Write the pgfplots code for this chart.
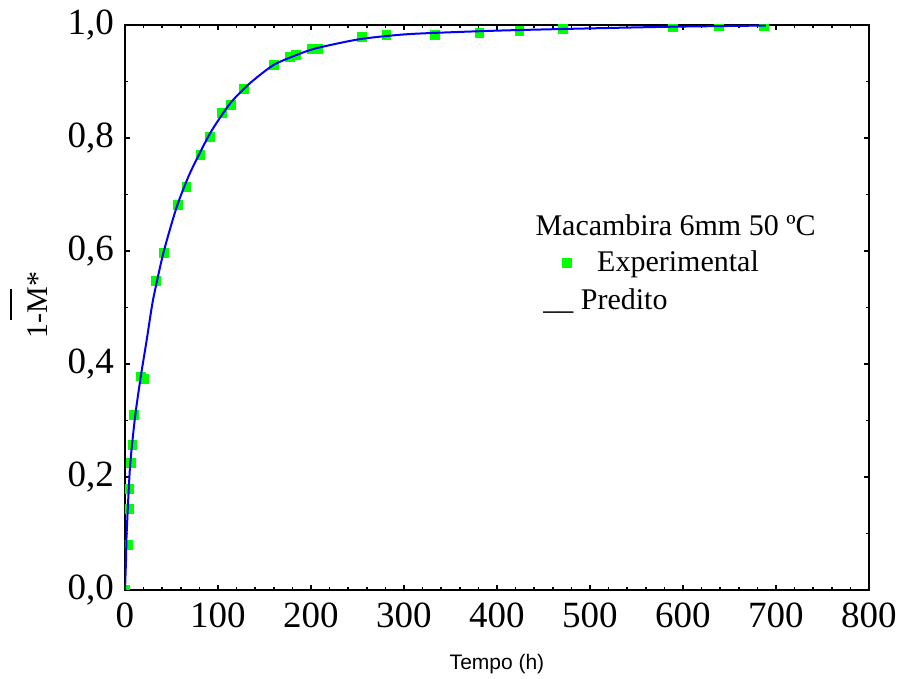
\documentclass[border=0pt]{standalone}
\usepackage{fontspec}
\setmainfont{Liberation Serif}
\newfontfamily\arialfont{Liberation Sans}
\usepackage{pgfplots}
\pgfplotsset{compat=1.18}

% measured drying data
\pgfplotstableread{
t    y
0    0.000
3.5  0.080
4.3  0.143
4.3  0.179
6    0.225
8    0.257
10   0.310
17   0.378
20   0.374
33   0.547
42   0.596
57   0.681
66   0.713
81   0.770
91   0.802
104  0.844
114  0.858
128  0.887
160  0.929
177  0.943
184  0.947
201  0.958
208  0.958
255  0.979
281  0.982
333  0.982
381  0.986
424  0.989
471  0.993
589  0.996
639  0.999
687  0.999
}\experimental

% fitted model curve
\pgfplotstableread{
t     y
0     0.000
1.1   0.053
1.8   0.101
5.4   0.218
10.8  0.306
16.9  0.377
23.3  0.442
30.1  0.513
41.2  0.596
55.6  0.678
69.9  0.738
91.4  0.808
112.9 0.861
134.4 0.897
159.5 0.929
184.6 0.947
206.1 0.959
252.7 0.975
306.5 0.984
400   0.990
500   0.994
590   0.997
689   0.999
}\predito

\definecolor{ptgreen}{RGB}{0,255,0}
\definecolor{lineblue}{RGB}{0,0,255}

\begin{document}
\begin{tikzpicture}
\useasboundingbox (-62.5pt,-44.5pt) rectangle (388.5pt,295pt);
\begin{axis}[
  at={(0pt,0pt)}, anchor=south west,
  scale only axis,
  width=372pt, height=282.5pt,
  xmin=0, xmax=800, ymin=0, ymax=1,
  xtick={0,100,...,800},
  ytick={0,0.2,...,1.0},
  minor x tick num=4,
  minor y tick num=1,
  tick align=inside,
  major tick length=2.5pt,
  minor tick length=1.4pt,
  every tick/.style={black, line width=0.8pt},
  axis line style={black, line width=1pt},
  clip marker paths=true,
  /pgf/number format/assume math mode=true,
  xticklabel style={font=\fontsize{18.5}{21}\selectfont, yshift=-3pt,
    /pgf/number format/.cd, fixed, precision=0},
  yticklabel style={font=\fontsize{18.5}{21}\selectfont, xshift=-2pt,
    /pgf/number format/.cd, use comma, fixed, fixed zerofill, precision=1},
  xlabel={\arialfont Tempo (h)},
  xlabel style={font=\fontsize{10.5}{12}\selectfont,
    at={(axis description cs:0.5,0)}, anchor=base, yshift=-40pt},
  ylabel={\makebox[0pt][l]{\hspace{9.5pt}\rule[18pt]{15.5pt}{0.8pt}}1-M*},
  ylabel style={font=\fontsize{15}{18}\selectfont,
    at={(axis description cs:-0.1035,0.504)}, anchor=base},
  legend style={draw=none, fill=none, font=\fontsize{15}{18}\selectfont,
    column sep=11pt, at={(axis cs:463.5,0.579)}, anchor=west},
]
\addplot[only marks, mark=square*, mark size=2.2pt,
  mark options={draw=ptgreen, fill=ptgreen}] table[x=t, y=y] {\experimental};
\addlegendentry{Experimental}
\addplot[lineblue, line width=1pt, smooth, tension=0.4, forget plot]
  table[x=t, y=y] {\predito};
\node[anchor=base west, font=\fontsize{15}{18}\selectfont, inner sep=0pt]
  at (axis cs:441,0.627) {Macambira 6mm 50 ºC};
\node[anchor=base west, font=\fontsize{15}{18}\selectfont, inner sep=0pt]
  at (axis cs:449.5,0.496) {\_\_ Predito};
\end{axis}
\end{tikzpicture}
\end{document}
